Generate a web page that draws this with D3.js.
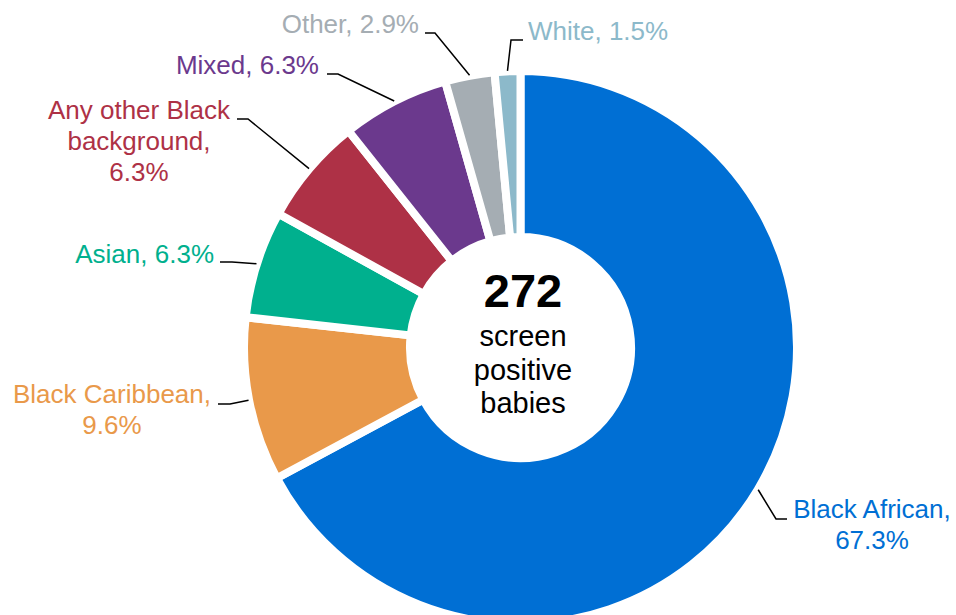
<!DOCTYPE html>
<html>
<head>
<meta charset="utf-8">
<script src="https://cdn.jsdelivr.net/npm/d3@7"></script>
<style>
  html, body { margin: 0; padding: 0; background: #fff; }
  svg { display: block; font-family: "Liberation Sans", Arial, sans-serif; }
</style>
</head>
<body>
<svg id="chart" width="956" height="615"></svg>
<script>
// data
let categories = ['Black African', 'Black Caribbean', 'Asian', 'Any other Black background', 'Mixed', 'Other', 'White'];
let shares = [67.3, 9.6, 6.3, 6.3, 6.3, 2.9, 1.5];
let colours = ['#006fd4', '#e9994a', '#00b08e', '#ae3146', '#6b398d', '#a5adb3', '#8cb9ca'];
let labelLines = [
    ['Black African,', '67.3%'],
    ['Black Caribbean,', '9.6%'],
    ['Asian, 6.3%'],
    ['Any other Black', 'background,', '6.3%'],
    ['Mixed, 6.3%'],
    ['Other, 2.9%'],
    ['White, 1.5%'],
];
let total = 272;
let centreLines = ['screen', 'positive', 'babies'];

// layout
let cx = 520.5;
let cy = 347.5;
let outerRadius = 276.5;
let innerRadius = 110.5;
let gapWidth = 8;
let labelSize = 26;
let lineGap = 31;

// where each label sits: text x, first baseline, anchor, leader start/elbow (same y)
let labelPos = [
    { x: 872, y: 518, anchor: 'middle', lx0: 787, lx1: 776, ly: 519 },
    { x: 112, y: 403, anchor: 'middle', lx0: 218, lx1: 230, ly: 404 },
    { x: 214, y: 263, anchor: 'end', lx0: 220, lx1: 232, ly: 262 },
    { x: 139, y: 119, anchor: 'middle', lx0: 237, lx1: 248, ly: 119 },
    { x: 319, y: 74, anchor: 'end', lx0: 327, lx1: 338, ly: 74 },
    { x: 419, y: 33, anchor: 'end', lx0: 425, lx1: 435, ly: 33 },
    { x: 528, y: 40, anchor: 'start', lx0: 523, lx1: 511, ly: 40 },
];

let svg = d3.select('#chart');
let g = svg.append('g').attr('transform', `translate(${cx},${cy})`);

let pie = d3.pie().sort(null).value((d) => d);
let arcs = pie(shares);

let arc = d3.arc().innerRadius(innerRadius).outerRadius(outerRadius);
let leaderArc = d3.arc().innerRadius(277).outerRadius(277);

g.selectAll('path.slice')
    .data(arcs)
    .enter()
    .append('path')
    .attr('class', 'slice')
    .attr('d', arc)
    .attr('fill', (d, i) => colours[i])
    .attr('stroke', '#fff')
    .attr('stroke-width', gapWidth)
    .attr('stroke-linejoin', 'miter');

// leader lines
svg.selectAll('polyline.leader')
    .data(arcs)
    .enter()
    .append('polyline')
    .attr('class', 'leader')
    .attr('fill', 'none')
    .attr('stroke', '#000')
    .attr('stroke-width', 1.5)
    .attr('points', function (d, i) {
        let p = labelPos[i];
        let c = leaderArc.centroid(d);
        return `${p.lx0},${p.ly} ${p.lx1},${p.ly} ${cx + c[0]},${cy + c[1]}`;
    });

// labels
let labels = svg.selectAll('text.label')
    .data(arcs)
    .enter()
    .append('text')
    .attr('class', 'label')
    .attr('font-size', labelSize + 'px')
    .attr('fill', (d, i) => colours[i])
    .attr('text-anchor', (d, i) => labelPos[i].anchor);

labels.each(function (d, i) {
    let p = labelPos[i];
    d3.select(this)
        .selectAll('tspan')
        .data(labelLines[i])
        .enter()
        .append('tspan')
        .attr('x', p.x)
        .attr('y', (t, j) => p.y + j * lineGap)
        .text((t) => t);
});

// centre text
svg.append('text')
    .attr('x', 523)
    .attr('y', 307)
    .attr('text-anchor', 'middle')
    .attr('font-size', '47px')
    .attr('font-weight', 'bold')
    .attr('fill', '#000')
    .text(total);

svg.selectAll('text.centre')
    .data(centreLines)
    .enter()
    .append('text')
    .attr('class', 'centre')
    .attr('x', 523)
    .attr('y', (d, i) => 346 + i * 33.5)
    .attr('text-anchor', 'middle')
    .attr('font-size', '29px')
    .attr('fill', '#000')
    .text((d) => d);
</script>
</body>
</html>
